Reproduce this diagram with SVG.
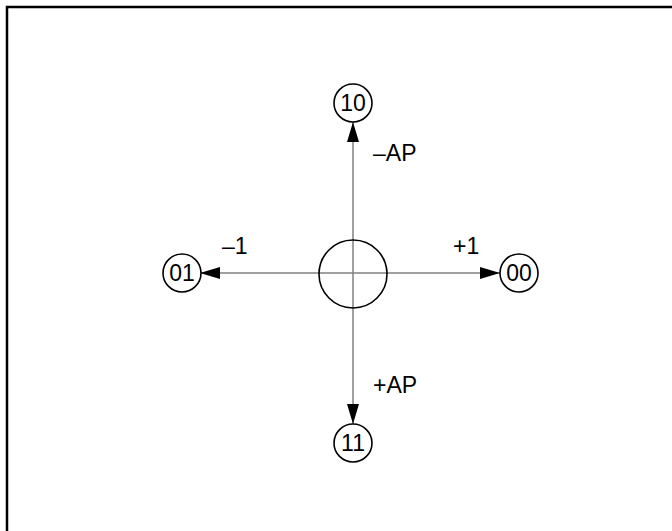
<svg xmlns="http://www.w3.org/2000/svg" width="672" height="531" viewBox="0 0 672 531">
<defs>
<marker id="ah" markerWidth="20" markerHeight="12" refX="20" refY="6" orient="auto" markerUnits="userSpaceOnUse">
<path d="M0,0 L20,6 L0,12 Z" fill="#000"/>
</marker>
<style>
.t{font-family:"Liberation Sans",Arial,sans-serif;font-size:23px;fill:#000}
.n{fill:#fff;stroke:#000;stroke-width:1.6}
.c{stroke:#808080;stroke-width:1.5;fill:none}
</style>
</defs>
<rect width="672" height="531" fill="#fff"/>
<path d="M7,531 L7,7 L672,7" fill="none" stroke="#000" stroke-width="2.5"/>
<g id="connectors">
<line class="c" x1="353" y1="273" x2="353" y2="122" marker-end="url(#ah)"/>
<line class="c" x1="353" y1="273" x2="353" y2="424" marker-end="url(#ah)"/>
<line class="c" x1="353" y1="273" x2="200" y2="273" marker-end="url(#ah)"/>
<line class="c" x1="353" y1="273" x2="500" y2="273" marker-end="url(#ah)"/>
</g>
<g id="center"><circle cx="353" cy="274" r="34" fill="none" stroke="#000" stroke-width="1.6"/></g>
<g id="n10"><circle class="n" cx="353" cy="103" r="19"/><text class="t" x="353" y="111" text-anchor="middle">10</text></g>
<g id="n01"><circle class="n" cx="182" cy="273" r="19"/><text class="t" x="182" y="281" text-anchor="middle">01</text></g>
<g id="n00"><circle class="n" cx="519" cy="273" r="19"/><text class="t" x="519" y="281" text-anchor="middle">00</text></g>
<g id="n11"><circle class="n" cx="353" cy="443" r="19"/><text class="t" x="353" y="451" text-anchor="middle">11</text></g>
<g id="labels">
<text class="t" x="373" y="161">–AP</text>
<text class="t" x="373" y="393">+AP</text>
<text class="t" x="222" y="254">–1</text>
<text class="t" x="453" y="254">+1</text>
</g>
</svg>
